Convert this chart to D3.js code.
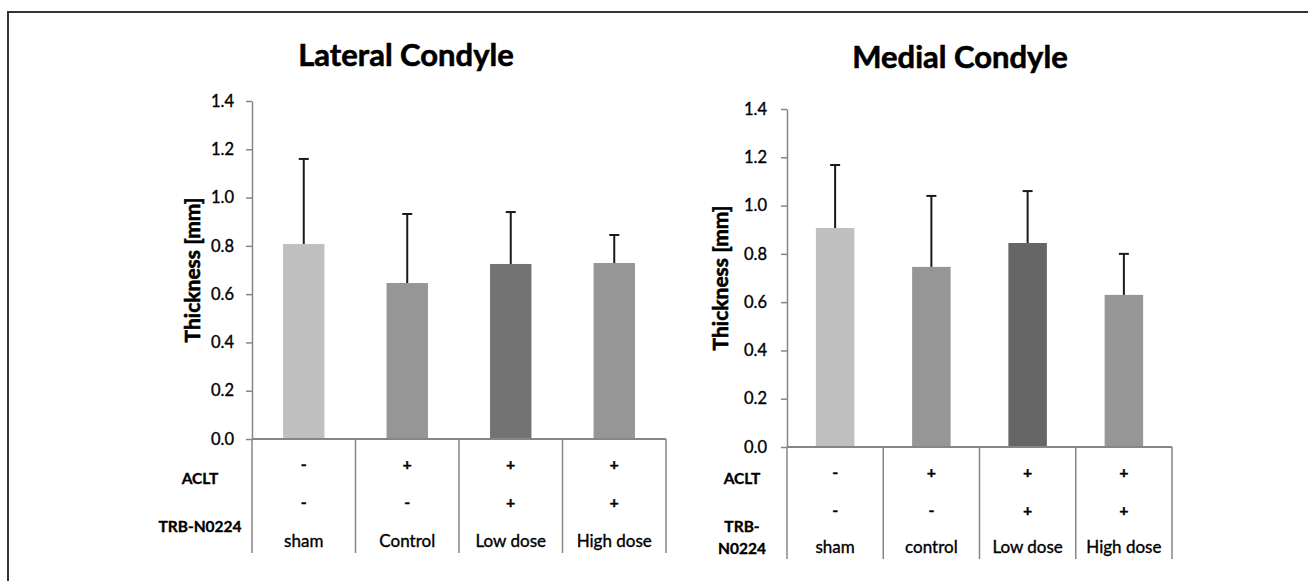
<!DOCTYPE html>
<html>
<head>
<meta charset="utf-8">
<script src="https://cdn.jsdelivr.net/npm/d3@7"></script>
<style>
  html, body { margin: 0; padding: 0; background: #fff; }
  svg { display: block; font-family: Lato, "Open Sans", sans-serif; }
  text { fill: #000; stroke: #000; stroke-width: 0.35px; }
  text.heavy { stroke-width: 0.6px; }
</style>
</head>
<body>
<div id="chart"></div>
<script>
const W = 1308;
const H = 581;

const yTicks = [0, 0.2, 0.4, 0.6, 0.8, 1.0, 1.2, 1.4];
const acltSigns = ['-', '+', '+', '+'];
const trbSigns = ['-', '-', '+', '+'];
const lateralGroups = ['sham', 'Control', 'Low dose', 'High dose'];
const medialGroups = ['sham', 'control', 'Low dose', 'High dose'];
const lateralMeans = [0.808, 0.646, 0.725, 0.729];
const lateralSD = [0.352, 0.286, 0.215, 0.116];
const medialMeans = [0.907, 0.746, 0.845, 0.63];
const medialSD = [0.261, 0.294, 0.215, 0.17];

const lateralColors = ['#c0c0c0', '#969696', '#737373', '#969696'];
const medialColors = ['#c0c0c0', '#969696', '#666666', '#969696'];

const svg = d3.select('#chart')
  .append('svg')
  .attr('width', W)
  .attr('height', H);

// outer frame, runs off the right and bottom edges
svg.append('rect')
  .attr('x', 8)
  .attr('y', 12)
  .attr('width', W + 10)
  .attr('height', H)
  .attr('fill', 'none')
  .attr('stroke', '#333')
  .attr('stroke-width', 2);

function drawPanel(p) {
  const g = svg.append('g');

  const x = d3.scaleBand()
    .domain(p.groups)
    .range([p.left, p.right])
    .paddingInner(0.6)
    .paddingOuter(0.3);

  const y = d3.scaleLinear()
    .domain([0, 1.4])
    .range([p.zeroY, p.topY]);

  // title
  g.append('text')
    .attr('class', 'heavy')
    .attr('x', p.titleX)
    .attr('y', p.titleY)
    .attr('text-anchor', 'middle')
    .attr('font-size', 31)
    .attr('font-weight', 'bold')
    .text(p.title);

  // bars
  g.selectAll('rect.bar')
    .data(p.means)
    .enter()
    .append('rect')
    .attr('class', 'bar')
    .attr('x', (d, i) => x(p.groups[i]))
    .attr('y', d => y(d))
    .attr('width', x.bandwidth())
    .attr('height', d => y(0) - y(d))
    .attr('fill', (d, i) => p.colors[i]);

  // error bars (upper only)
  const cx = i => x(p.groups[i]) + x.bandwidth() / 2;
  g.selectAll('line.err')
    .data(p.means)
    .enter()
    .append('line')
    .attr('class', 'err')
    .attr('x1', (d, i) => cx(i))
    .attr('x2', (d, i) => cx(i))
    .attr('y1', d => y(d))
    .attr('y2', (d, i) => y(d + p.sd[i]))
    .attr('stroke', '#1a1a1a')
    .attr('stroke-width', 2);

  g.selectAll('line.cap')
    .data(p.means)
    .enter()
    .append('line')
    .attr('class', 'cap')
    .attr('x1', (d, i) => cx(i) - 5)
    .attr('x2', (d, i) => cx(i) + 5)
    .attr('y1', (d, i) => y(d + p.sd[i]))
    .attr('y2', (d, i) => y(d + p.sd[i]))
    .attr('stroke', '#1a1a1a')
    .attr('stroke-width', 2);

  // y axis
  const yAxis = g.append('g')
    .attr('transform', `translate(${p.left},0)`)
    .call(d3.axisLeft(y).tickValues(yTicks).tickFormat(d3.format('.1f')).tickSize(6).tickSizeOuter(0));
  yAxis.select('.domain').attr('stroke', '#868686').attr('stroke-width', 1.5);
  yAxis.selectAll('.tick line').attr('stroke', '#868686').attr('stroke-width', 1.5);
  yAxis.selectAll('.tick text')
    .attr('x', -p.tickPad)
    .attr('font-size', 16.5)
    .attr('font-family', 'Lato, sans-serif');

  // y label
  g.append('text')
    .attr('class', 'heavy')
    .attr('transform', `translate(${p.labelX},${(p.topY + p.zeroY) / 2}) rotate(-90)`)
    .attr('text-anchor', 'middle')
    .attr('font-size', 21)
    .attr('font-weight', 'bold')
    .text('Thickness [mm]');

  // baseline and table dividers
  g.append('line')
    .attr('x1', p.left)
    .attr('x2', p.right)
    .attr('y1', y(0))
    .attr('y2', y(0))
    .attr('stroke', '#868686')
    .attr('stroke-width', 2);

  const edges = d3.range(p.groups.length + 1).map(i => p.left + i * (p.right - p.left) / p.groups.length);
  g.selectAll('line.div')
    .data(edges)
    .enter()
    .append('line')
    .attr('class', 'div')
    .attr('x1', d => d)
    .attr('x2', d => d)
    .attr('y1', y(0))
    .attr('y2', p.tableBottom)
    .attr('stroke', '#868686')
    .attr('stroke-width', 1.5);

  // sign rows
  g.selectAll('text.aclt')
    .data(acltSigns)
    .enter()
    .append('text')
    .attr('class', 'aclt')
    .attr('x', (d, i) => cx(i))
    .attr('y', p.row1Y)
    .attr('text-anchor', 'middle')
    .attr('font-size', 16)
    .attr('font-weight', 'bold')
    .text(d => d);

  g.selectAll('text.trb')
    .data(trbSigns)
    .enter()
    .append('text')
    .attr('class', 'trb')
    .attr('x', (d, i) => cx(i))
    .attr('y', p.row2Y)
    .attr('text-anchor', 'middle')
    .attr('font-size', 16)
    .attr('font-weight', 'bold')
    .text(d => d);

  g.selectAll('text.grp')
    .data(p.groups)
    .enter()
    .append('text')
    .attr('class', 'grp')
    .attr('x', (d, i) => cx(i))
    .attr('y', p.row3Y)
    .attr('text-anchor', 'middle')
    .attr('font-size', 17)
    .text(d => d);

  // row labels
  g.append('text')
    .attr('x', p.rowLabelX)
    .attr('y', p.acltY)
    .attr('text-anchor', 'middle')
    .attr('font-size', 15.5)
    .attr('font-weight', 'bold')
    .text('ACLT');

  const trb = g.append('text')
    .attr('x', p.rowLabelX)
    .attr('y', p.trbY)
    .attr('text-anchor', 'middle')
    .attr('font-size', 15.5)
    .attr('font-weight', 'bold');
  p.trbLines.forEach((t, i) => {
    trb.append('tspan')
      .attr('x', p.rowLabelX)
      .attr('dy', i === 0 ? 0 : 22)
      .text(t);
  });
}

drawPanel({
  title: 'Lateral Condyle',
  groups: lateralGroups,
  means: lateralMeans,
  sd: lateralSD,
  colors: lateralColors,
  left: 252, right: 666,
  topY: 101, zeroY: 439,
  titleX: 406, titleY: 66,
  labelX: 200, tickPad: 18,
  row1Y: 470, row2Y: 508, row3Y: 547,
  rowLabelX: 200, acltY: 484, trbY: 532,
  trbLines: ['TRB-N0224'],
  tableBottom: 553
});

drawPanel({
  title: 'Medial Condyle',
  groups: medialGroups,
  means: medialMeans,
  sd: medialSD,
  colors: medialColors,
  left: 787, right: 1172,
  topY: 109, zeroY: 447,
  titleX: 960, titleY: 68,
  labelX: 728, tickPad: 20,
  row1Y: 478, row2Y: 516, row3Y: 553,
  rowLabelX: 742, acltY: 484, trbY: 532,
  trbLines: ['TRB-', 'N0224'],
  tableBottom: 559
});
</script>
</body>
</html>
